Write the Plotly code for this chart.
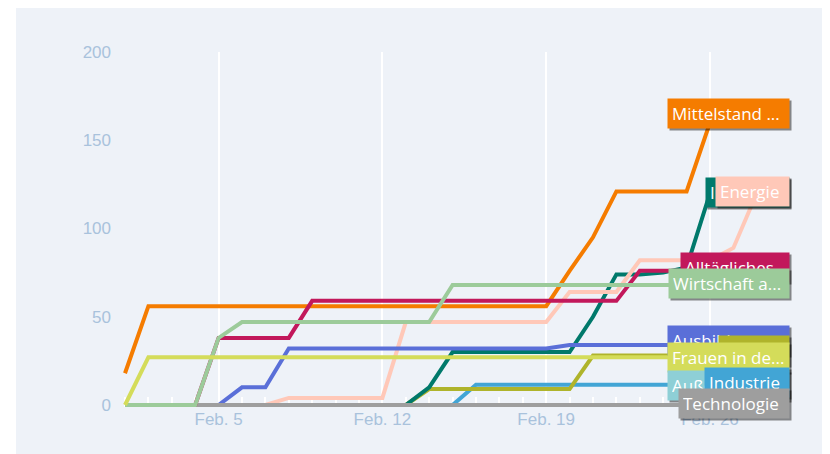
import plotly.graph_objects as go
import pandas as pd

# ---------------- data ----------------
dates = pd.date_range("2024-02-01", "2024-02-28", freq="D")

series_names = [
    "Außenhandel", "Industrie", "Politik", "Innovation", "Energie",
    "Ausbildung", "Technologie", "Mittelstand", "Alltägliches",
    "Wirtschaft", "Frauen in der Wirtschaft",
]

aussenhandel = [0] * 26 + [6, 11]
industrie = [0] * 15 + [11.5] * 13
politik = [0] * 13 + [9] * 7 + [28] * 8
innovation = [0] * 13 + [10] + [30] * 6 + [50, 74, 74, 75, 78, 120, 121, 121]
energie = [0] * 7 + [4] * 5 + [47] * 7 + [64] * 3 + [82] * 4 + [89, 120]
ausbildung = [0] * 5 + [10, 10] + [32] * 12 + [34] * 9
technologie = [0] * 28
mittelstand = [18] + [56] * 18 + [76, 95, 121, 121, 121, 121, 160, 165, 166]
alltaegliches = [0] * 4 + [38] * 4 + [59] * 14 + [76] * 4 + [77, 78]
wirtschaft = [0] * 4 + [38] + [47] * 9 + [68] * 14
frauen = [0] + [27] * 27

series_values = [
    aussenhandel, industrie, politik, innovation, energie, ausbildung,
    technologie, mittelstand, alltaegliches, wirtschaft, frauen,
]

label_texts = {
    "Mittelstand": "Mittelstand ...",
    "Innovation": "Innovation",
    "Energie": "Energie",
    "Alltägliches": "Alltägliches ...",
    "Wirtschaft": "Wirtschaft a...",
    "Ausbildung": "Ausbildung ...",
    "Politik": "Politik",
    "Frauen in der Wirtschaft": "Frauen in de...",
    "Außenhandel": "Außenhandel",
    "Industrie": "Industrie",
    "Technologie": "Technologie",
}

y_tickvals = [0, 50, 100, 150, 200]
x_tick0 = "2024-02-05"

# ---------------- styles ----------------
colors = {
    "Außenhandel": "#8ecfd6",
    "Industrie": "#42a5d5",
    "Politik": "#afb42b",
    "Innovation": "#00796b",
    "Energie": "#ffc8b8",
    "Ausbildung": "#5a6fd8",
    "Technologie": "#9e9e9e",
    "Mittelstand": "#f57c00",
    "Alltägliches": "#c2185b",
    "Wirtschaft": "#9ccb9a",
    "Frauen in der Wirtschaft": "#d4dc5a",
}

label_order = ["Mittelstand", "Innovation", "Energie", "Alltägliches", "Wirtschaft",
               "Ausbildung", "Politik", "Frauen in der Wirtschaft", "Außenhandel",
               "Industrie", "Technologie"]
# left edge of each label box (screen px); right edges all at plot right
label_left = {
    "Mittelstand": 669, "Innovation": 707, "Energie": 717, "Alltägliches": 682,
    "Wirtschaft": 670, "Ausbildung": 669, "Politik": 720,
    "Frauen in der Wirtschaft": 669, "Außenhandel": 669, "Industrie": 706,
    "Technologie": 680,
}
label_yshift = {
    "Mittelstand": -1.5, "Innovation": -1.1, "Energie": 2.2, "Alltägliches": 0,
    "Wirtschaft": 1.5, "Ausbildung": 4.5, "Politik": 4.6,
    "Frauen in der Wirtschaft": 0, "Außenhandel": 0, "Industrie": 2.7,
    "Technologie": 1.5,
}

OFF = 8  # page body margin
W, H = 830 - OFF, 454 - OFF
# plot area in screen pixels
SL, SR, ST, SB = 112, 790, 52, 407
L, R, T, B = SL - OFF, SR - OFF, ST - OFF, SB - OFF
BG = "#eef2f8"
TICK_COLOR = "#a9c2dc"
TICK_FONT = dict(family="Liberation Sans, Arial, sans-serif", size=17, color=TICK_COLOR)
LABEL_FONT = "Open Sans, sans-serif"

fig = go.Figure()
for name, vals in zip(series_names, series_values):
    fig.add_trace(go.Scatter(
        x=dates, y=vals, mode="lines", name=name,
        line=dict(color=colors[name], width=4),
        hoverinfo="skip",
    ))

PAD = 4
BOX_H = 29
annotations = []
last_vals = {n: v[-1] for n, v in zip(series_names, series_values)}
for name in label_order:
    boxw = SR - label_left[name]
    common = dict(
        x=1, xref="paper", xanchor="right", y=last_vals[name], yref="y",
        yanchor="middle", showarrow=False, align="left",
        width=boxw - 2 * PAD, height=BOX_H - 2 * PAD, borderpad=PAD,
        text=label_texts[name],
    )
    annotations.append(dict(common, bgcolor="rgba(0,0,0,0.45)",
                            font=dict(family=LABEL_FONT, size=17, color="rgba(0,0,0,0)"),
                            xshift=2, yshift=label_yshift[name] - 2))
    annotations.append(dict(common, bgcolor=colors[name],
                            font=dict(family=LABEL_FONT, size=17, color="white"),
                            yshift=label_yshift[name]))

pw, ph = R - L, B - T
def px_x(p):
    return (p - L) / pw
def px_y(p):
    return (B - p) / ph

shapes = [
    dict(type="rect", xref="paper", yref="paper", layer="below",
         x0=px_x(0), x1=px_x(16 - OFF), y0=px_y(H), y1=px_y(0),
         fillcolor="white", line=dict(width=0)),
]

# x range from pixel geometry: Feb 1 at screen x=125, 23.4 px/day
day_px = 23.4
x_start = pd.Timestamp("2024-02-01") - pd.Timedelta(days=(125 - SL) / day_px)
x_end = pd.Timestamp("2024-02-01") + pd.Timedelta(days=(SR - 125) / day_px)
y_per_px = 200 / (405 - ST)
y_min = -(SB - 405) * y_per_px

fig.update_layout(
    width=W, height=H,
    margin=dict(l=L, r=W - R, t=T, b=H - B, pad=0),
    paper_bgcolor=BG, plot_bgcolor=BG,
    showlegend=False,
    annotations=annotations,
    shapes=shapes,
    xaxis=dict(
        range=[x_start, x_end], type="date",
        tick0=x_tick0, dtick=7 * 86400000, tickformat="%b. %-d",
        showgrid=True, gridcolor="white", gridwidth=2,
        zeroline=False, showline=False, ticks="", layer="below traces",
        tickfont=TICK_FONT,
        minor=dict(ticks="inside", ticklen=10, tickcolor="white", tickwidth=1.5,
                   dtick=86400000, tick0="2024-02-01", showgrid=False),
    ),
    yaxis=dict(
        range=[y_min, 200], tickvals=y_tickvals,
        showgrid=False, zeroline=False, showline=False, ticks="",
        tickfont=TICK_FONT,
    ),
)

fig.write_html("out.html")
